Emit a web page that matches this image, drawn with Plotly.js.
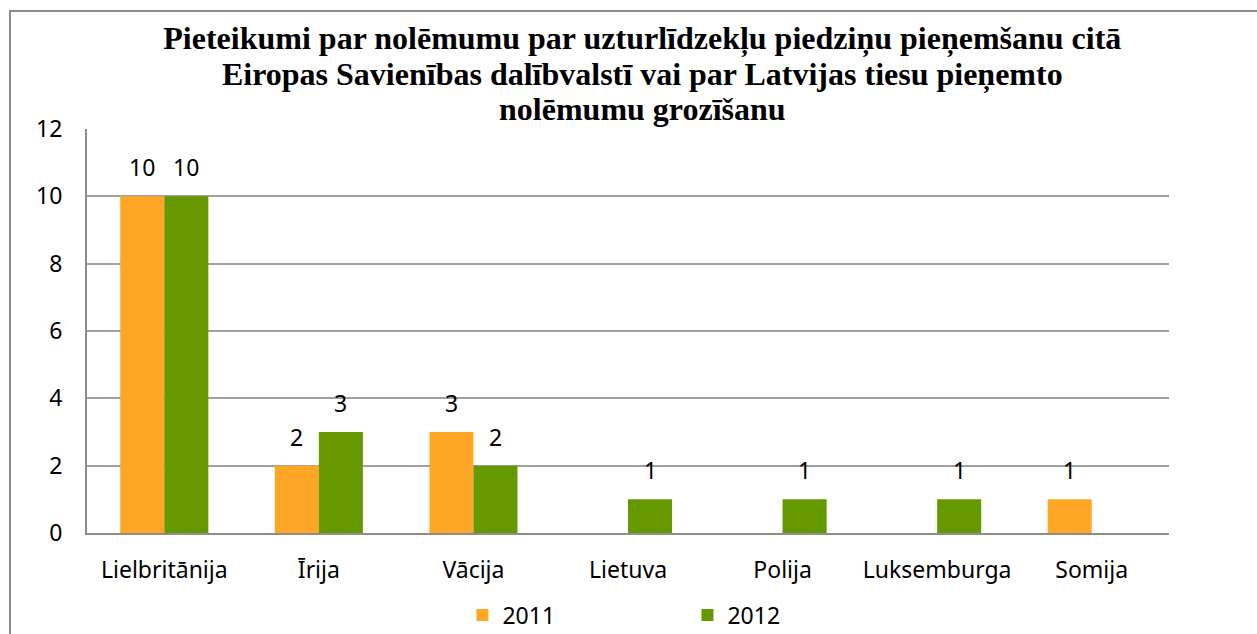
<!DOCTYPE html>
<html><head><meta charset="utf-8">
<script src="https://cdn.plot.ly/plotly-3.0.1.min.js"></script>
<style>
html,body{margin:0;padding:0;background:#fff;}
#wrap{position:relative;width:1257px;height:634px;overflow:hidden;}
#frame{position:absolute;left:9px;top:10px;width:1400px;height:700px;border-left:2px solid #8c8c8c;border-top:2px solid #8c8c8c;pointer-events:none;z-index:5;}
#chart{position:absolute;left:0;top:0;width:1257px;height:634px;}
</style></head>
<body><div id="wrap"><div id="chart"></div><div id="frame"></div></div>
<script>
const categories = ["Lielbritānija", "Īrija", "Vācija", "Lietuva", "Polija", "Luksemburga", "Somija"];
const values2011 = [10, 2, 3, null, null, null, 1];
const values2012 = [10, 3, 2, 1, 1, 1, null];
const yTicks = [0, 2, 4, 6, 8, 10, 12];
const titleLines = [
  "Pieteikumi par nolēmumu par uzturlīdzekļu piedziņu pieņemšanu citā",
  "Eiropas Savienības dalībvalstī vai par Latvijas tiesu pieņemto",
  "nolēmumu grozīšanu"
];

const orange = "#FFA626", green = "#669900";
const labelFont = {family: "Noto Sans, Open Sans, sans-serif", size: 23, color: "#000"};

const traces = [
  {type: "bar", name: "2011", x: categories, y: values2011, marker: {color: orange}, hoverinfo: "none"},
  {type: "bar", name: "2012", x: categories, y: values2012, marker: {color: green}, hoverinfo: "none"}
];

const annotations = [];
[[values2011, -22], [values2012, 22]].forEach(([vals, dx]) => {
  vals.forEach((v, i) => {
    if (v === null) return;
    annotations.push({x: categories[i], y: v, xref: "x", yref: "y", text: String(v),
      showarrow: false, yanchor: "bottom", xshift: dx, yshift: 11, font: labelFont});
  });
});

const titleText = titleLines.map(t => '<span style="font-size:32px">' + t + '</span>').join("<br>");

const layout = {
  width: 1257, height: 634,
  margin: {l: 87, r: 88, t: 129, b: 101},
  paper_bgcolor: "rgba(0,0,0,0)", plot_bgcolor: "#fff",
  title: {text: titleText, x: 0.511, xanchor: "center", xref: "container", y: 0.923, yref: "container", yanchor: "top",
    font: {family: "Liberation Serif, Times New Roman, serif", size: 27.5, color: "#000", weight: "bold"}},
  bargap: 0.43, bargroupgap: 0, barmode: "group",
  xaxis: {type: "category", showgrid: false, showline: true, linecolor: "#8c8c8c", linewidth: 2,
    ticks: "", tickfont: labelFont, ticklabelstandoff: 15, fixedrange: true},
  yaxis: {range: [0, 12], tickvals: yTicks, ticktext: yTicks.map(String), showgrid: true, gridcolor: "#a0a0a0", gridwidth: 2,
    showline: true, linecolor: "#8c8c8c", linewidth: 2, zeroline: false, ticks: "", tickfont: labelFont,
    ticklabelstandoff: 18, fixedrange: true},
  legend: {orientation: "h", x: 0.347, xanchor: "left", y: 0.03, yref: "container", yanchor: "middle",
    entrywidth: 180, entrywidthmode: "pixels", font: labelFont, traceorder: "normal"},
  showlegend: true,
  annotations: annotations
};
Plotly.newPlot("chart", traces, layout, {displayModeBar: false, staticPlot: true});
</script></body></html>
